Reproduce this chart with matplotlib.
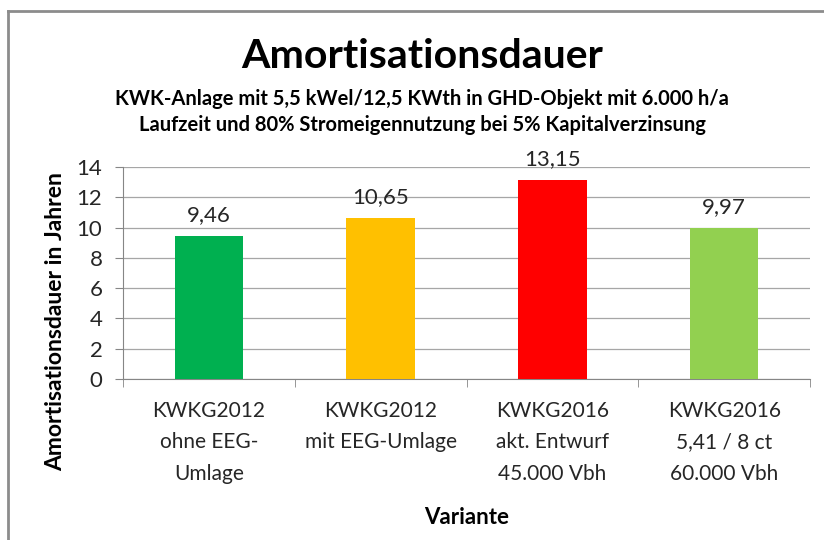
import matplotlib.pyplot as plt
from matplotlib.lines import Line2D
import numpy as np

# data
categories = ["KWKG2012\nohne EEG-\nUmlage", "KWKG2012\nmit EEG-Umlage",
              "KWKG2016\nakt. Entwurf\n45.000 Vbh", "KWKG2016\n5,41 / 8 ct\n60.000 Vbh"]
values = [9.46, 10.65, 13.15, 9.97]
value_labels = ["9,46", "10,65", "13,15", "9,97"]
colors = ["#00B050", "#FFC000", "#FF0000", "#92D050"]
yticks = [0, 2, 4, 6, 8, 10, 12, 14]

plt.rcParams['font.family'] = ['Lato', 'DejaVu Sans']

fig = plt.figure(figsize=(8.24, 5.4), dpi=100)
ax = fig.add_axes([123/824, 1 - 379/540, (810 - 123)/824, (379 - 167)/540])

x = np.arange(len(categories))
ax.bar(x, values, width=0.4, color=colors, zorder=3)

for xi, v, lab in zip(x, values, value_labels):
    ax.annotate(lab, (xi, v), xytext=(0, 8), textcoords="offset points",
                ha="center", va="bottom", fontsize=16, color="#262626")

ax.set_xlim(-0.5, len(categories) - 0.5)
ax.set_ylim(0, 14)
ax.set_yticks(yticks)
ax.set_yticklabels([str(t) for t in yticks], fontsize=16, color="#262626")
ax.set_xticks(x)
ax.set_xticklabels(categories, fontsize=15, linespacing=1.7, color="#262626")
ax.set_xticks(np.arange(-0.5, len(categories)), minor=True)
ax.tick_params(axis="x", which="major", length=0, pad=16)
ax.tick_params(axis="x", which="minor", length=6, color="#868686")
ax.tick_params(axis="y", length=5.8, color="#868686", pad=9)

ax.grid(axis="y", color="#A6A6A6", linewidth=0.9, zorder=0)
for s in ["top", "right"]:
    ax.spines[s].set_visible(False)
for s in ["left", "bottom"]:
    ax.spines[s].set_color("#868686")

ax.set_ylabel("Amortisationsdauer in Jahren", fontsize=16.5, fontweight="bold")
ax.yaxis.set_label_coords((66 - 123) / 687, (379 - 322) / 212)
ax.set_xlabel("Variante", fontsize=16, fontweight="bold")
ax.xaxis.set_label_coords(0.5, (379 - 507) / 212)

fig.text(422/824, 1 - 57/540, "Amortisationsdauer", fontsize=29.5, fontweight="bold",
         ha="center", va="center")
fig.text(422/824, 1 - 99/540, "KWK-Anlage mit 5,5 kWel/12,5 KWth in GHD-Objekt mit 6.000 h/a",
         fontsize=14.5, fontweight="bold", ha="center", va="center")
fig.text(422/824, 1 - 125/540, "Laufzeit und 80% Stromeigennutzung bei 5% Kapitalverzinsung",
         fontsize=14.5, fontweight="bold", ha="center", va="center")

# chart frame
fig.add_artist(Line2D([8/824, 8/824], [0, 1 - 10.5/540], color="#8C8C8C", linewidth=2))
fig.add_artist(Line2D([8/824, 1], [1 - 10.5/540, 1 - 10.5/540], color="#8C8C8C", linewidth=2))

fig.savefig("out.png", dpi=100)
